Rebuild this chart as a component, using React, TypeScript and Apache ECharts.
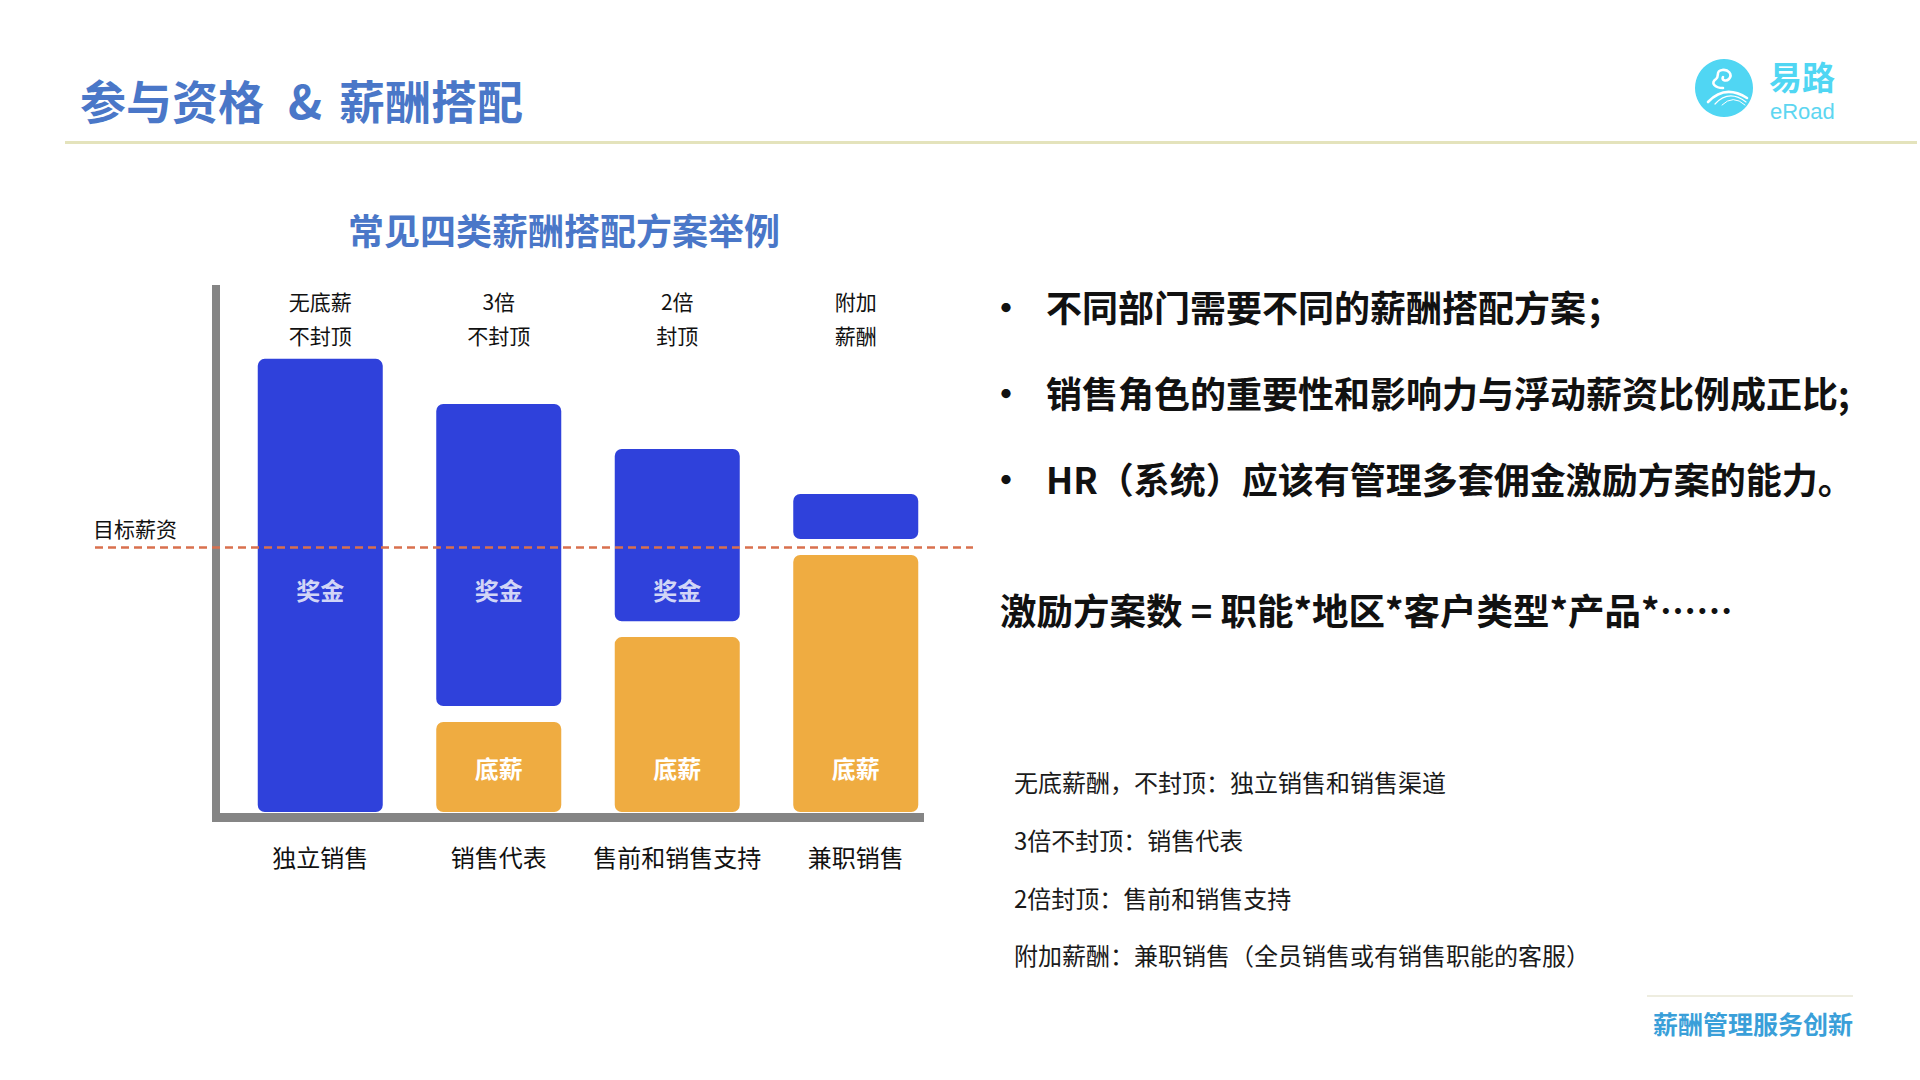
import React, { useEffect, useRef } from 'react';
import * as echarts from 'echarts';

// ---------- data ----------
const categories = ['独立销售', '销售代表', '售前和销售支持', '兼职销售'];
const planLabels = ['无底薪\n不封顶', '3倍\n不封顶', '2倍\n封顶', '附加\n薪酬'];
const baseSalary = [0, 34, 66, 97];
const gapValues = [0, 6, 6, 6];
const bonus = [171, 114, 65, 17];
const targetSalary = 100;
const bonusLabelLevel = 84;
const bonusLabelCats = [0, 1, 2];

const pageTitleLeft = '参与资格';
const pageTitleAmp = '&';
const pageTitleRight = '薪酬搭配';
const chartTitle = '常见四类薪酬搭配方案举例';
const bullets = [
  '不同部门需要不同的薪酬搭配方案；',
  '销售角色的重要性和影响力与浮动薪资比例成正比;',
  'HR（系统）应该有管理多套佣金激励方案的能力。',
];
const formula = '激励方案数 = 职能*地区*客户类型*产品*……';
const notes = [
  '无底薪酬，不封顶：独立销售和销售渠道',
  '3倍不封顶：销售代表',
  '2倍封顶：售前和销售支持',
  '附加薪酬：兼职销售（全员销售或有销售职能的客服）',
];
const footer = '薪酬管理服务创新';

// ---------- styles ----------
const FONT = '"Noto Sans CJK SC", "Noto Sans", sans-serif';
const BLUE = '#2F41DB';
const ORANGE = '#EFAC41';
const TITLE_BLUE = '#4A77C8';
const CYAN = '#50D6F3';

echarts.graphic.registerShape(
  'logoSwirl',
  echarts.graphic.extendPath('M 28 30 C 20 30 15 25 21 21 C 25 18 20 13 27 12 C 33 11 38 16 34 21 C 31 24 26 22 28 19', {})
);
echarts.graphic.registerShape('logoRoad1', echarts.graphic.extendPath('M 13 44 Q 30 26 52 40', {}));
echarts.graphic.registerShape('logoRoad2', echarts.graphic.extendPath('M 20 46 Q 34 31 51 44', {}));
echarts.graphic.registerShape('logoRoad3', echarts.graphic.extendPath('M 27 47 Q 38 36 50 47', {}));

const txt = (
  x: number,
  y: number,
  text: string,
  fontSize: number,
  fill: string,
  fontWeight: string = 'normal',
  align: string = 'left',
  family: string = FONT
) => ({
  type: 'text',
  x,
  y,
  z: 10,
  style: {
    text,
    fontSize,
    fill,
    fontWeight,
    fontFamily: family,
    align,
    verticalAlign: 'middle',
    textAlign: align,
    textVerticalAlign: 'middle',
  },
});

export default function App() {
  const ref = useRef<HTMLDivElement>(null);

  useEffect(() => {
    if (!ref.current) return;
    const chart = echarts.init(ref.current, null, { renderer: 'svg' });

    const bulletY = [306, 392, 478];
    const noteY = [781, 839, 897, 954];

    const graphics: any[] = [
      // page title
      txt(80, 99, pageTitleLeft, 46, TITLE_BLUE, 'bold'),
      txt(288, 99, pageTitleAmp, 46, TITLE_BLUE, 'bold'),
      txt(339, 99, pageTitleRight, 46, TITLE_BLUE, 'bold'),
      { type: 'rect', shape: { x: 65, y: 141, width: 1852, height: 3 }, style: { fill: '#E4E3BC' } },
      // logo
      { type: 'circle', shape: { cx: 1724, cy: 88, r: 29 }, style: { fill: CYAN } },
      {
        type: 'logoSwirl', x: 1695, y: 58, z: 11,
        style: { fill: 'none', stroke: '#fff', lineWidth: 2.6, lineCap: 'round' },
      },
      {
        type: 'logoRoad1', x: 1695, y: 58, z: 11,
        style: { fill: 'none', stroke: '#fff', lineWidth: 2.6, lineCap: 'round' },
      },
      {
        type: 'logoRoad2', x: 1695, y: 58, z: 11,
        style: { fill: 'none', stroke: '#fff', lineWidth: 1.2, lineCap: 'round' },
      },
      {
        type: 'logoRoad3', x: 1695, y: 58, z: 11,
        style: { fill: 'none', stroke: '#fff', lineWidth: 1, lineCap: 'round' },
      },
      txt(1769, 76, '易路', 33, CYAN, 'bold'),
      txt(1770, 111, 'eRoad', 22, '#5DD6F1', 'normal', 'left', 'Liberation Sans, Arial, sans-serif'),
      // chart title
      txt(564, 229, chartTitle, 36, TITLE_BLUE, 'bold', 'center'),
      // axes (L frame)
      { type: 'rect', shape: { x: 212, y: 285, width: 8, height: 537 }, style: { fill: '#858585' }, z: 1 },
      { type: 'rect', shape: { x: 212, y: 813, width: 712, height: 9 }, style: { fill: '#858585' }, z: 1 },
      // footer
      { type: 'rect', shape: { x: 1647, y: 995, width: 206, height: 2 }, style: { fill: '#EEEDE0' } },
      txt(1853, 1023, footer, 25, '#3A9FD9', 'bold', 'right'),
    ];
    bullets.forEach((b, i) => {
      graphics.push(txt(1006, bulletY[i], '•', 36, '#111', 'bold', 'center'));
      graphics.push(txt(1046, bulletY[i], b, 36, '#111', 'bold'));
    });
    graphics.push(txt(1000, 609, formula, 36.5, '#111', 'bold'));
    notes.forEach((n, i) => {
      graphics.push(txt(1014, noteY[i], n, 24, '#1a1a1a', 'normal'));
    });

    chart.setOption({
      animation: false,
      backgroundColor: '#ffffff',
      textStyle: { fontFamily: FONT },
      grid: { left: 231, top: 282, width: 714, height: 530, containLabel: false },
      xAxis: [
        {
          type: 'category',
          data: categories,
          position: 'bottom',
          axisLine: { show: false },
          axisTick: { show: false },
          axisLabel: { margin: 32, fontSize: 24, lineHeight: 24, color: '#111', fontFamily: FONT, interval: 0 },
        },
        {
          type: 'category',
          data: planLabels,
          position: 'top',
          axisLine: { show: false },
          axisTick: { show: false },
          axisLabel: { inside: true, margin: 2, fontSize: 21, lineHeight: 34, color: '#111', fontFamily: FONT, interval: 0 },
        },
      ],
      yAxis: {
        type: 'value',
        min: 0,
        max: 200,
        show: false,
        splitLine: { show: false },
      },
      graphic: graphics,
      series: [
        {
          name: '底薪',
          type: 'bar',
          stack: 'pay',
          barWidth: 125,
          data: baseSalary,
          itemStyle: { color: ORANGE, borderRadius: 7 },
          label: {
            show: true,
            position: 'insideBottom',
            distance: 33,
            formatter: (p: any) => (p.value > 0 ? '底薪' : ''),
            color: '#fff',
            fontSize: 24,
            fontWeight: 'bold',
            fontFamily: FONT,
          },
        },
        {
          name: 'gap',
          type: 'bar',
          stack: 'pay',
          barWidth: 125,
          data: gapValues,
          silent: true,
          itemStyle: { color: 'rgba(0,0,0,0)' },
        },
        {
          name: '奖金',
          type: 'bar',
          stack: 'pay',
          barWidth: 125,
          data: bonus,
          itemStyle: { color: BLUE, borderRadius: 7 },
          markLine: {
            silent: true,
            symbol: ['none', 'none'],
            lineStyle: { color: '#D9704E', type: [8, 5], width: 2.5 },
            label: {
              show: true,
              position: 'insideStartTop',
              formatter: '目标薪资',
              color: '#111',
              fontSize: 21,
              fontFamily: FONT,
              distance: [-2, 9],
            },
            data: [
              [
                { x: 95, xAxis: 0, yAxis: targetSalary },
                { x: 973, xAxis: 0, yAxis: targetSalary },
              ],
            ],
          },
        },
        {
          name: '奖金标签',
          type: 'scatter',
          data: bonusLabelCats.map((c) => [c, bonusLabelLevel]),
          symbolSize: 1,
          itemStyle: { color: 'rgba(0,0,0,0)' },
          z: 6,
          label: {
            show: true,
            position: 'inside',
            formatter: '奖金',
            color: '#fff',
            fontSize: 24,
            fontWeight: 'bold',
            fontFamily: FONT,
          },
        },
      ],
    });

    return () => chart.dispose();
  }, []);

  return (
    <div
      ref={ref}
      style={{ position: 'absolute', left: 0, top: 0, width: 1920, height: 1080, background: '#fff' }}
    />
  );
}
